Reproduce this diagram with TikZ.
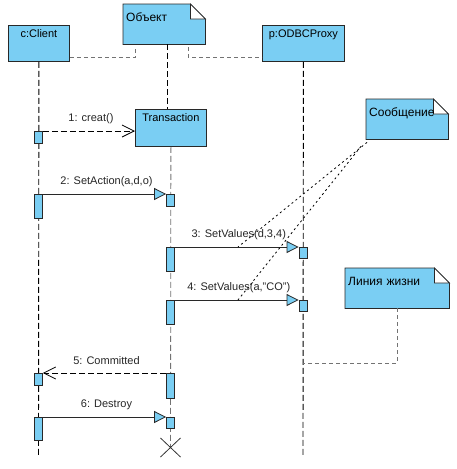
\documentclass[tikz,border=0pt]{standalone}
\usepackage{fontspec}
\setmainfont{Liberation Sans}
\usetikzlibrary{arrows.meta}
\usetikzlibrary{backgrounds}

\definecolor{umlblue}{RGB}{122,206,243}
\definecolor{umlline}{RGB}{40,40,40}

\tikzset{
 objbox/.style={draw=umlline, fill=umlblue, line width=0.8pt, anchor=north west, inner sep=3pt,
   text height=9pt, text depth=21pt, font=\fontsize{11}{13}\selectfont},
 notebox/.style={anchor=north west, inner sep=3pt, text height=14pt, text depth=20pt,
   align=left, font=\fontsize{12}{14}\selectfont},
 notebody/.style={draw=umlline, fill=umlblue, line width=0.8pt, line join=miter},
 act/.style={draw=umlline, fill=umlblue, line width=0.8pt, minimum width=8pt, inner sep=0pt, anchor=north},
 lifeline/.style={black, line width=0.9pt, dash pattern=on 6pt off 3pt},
 translife/.style={black!55, line width=0.8pt, dash pattern=on 6pt off 3pt},
 hint/.style={black!55, line width=0.8pt, dash pattern=on 4pt off 3pt},
 msgnote/.style={black, line width=0.8pt, dash pattern=on 2pt off 3pt},
 syncmsg/.style={umlline, line width=0.8pt, -{Triangle[length=12pt, width=12pt, fill=umlblue]}},
 replymsg/.style={black, line width=0.8pt, dash pattern=on 6pt off 3pt, -{Straight Barb[length=12pt, width=12pt]}},
 msglbl/.style={midway, yshift=12.5pt, xshift=2pt, inner sep=0pt, text=black!85, font=\fontsize{11}{13}\selectfont},
 destroy/.style={black!80, line width=0.8pt}
}

\begin{document}
\begin{tikzpicture}[x=1pt, y=-1pt]
\useasboundingbox (0,0) rectangle (456,469);

% objects
\node[objbox, minimum width=61pt] (client) at (8,25) {c:Client};
\node[objbox, minimum width=71pt, text depth=22pt] (trans) at (135,109) {Transaction};
\node[objbox, minimum width=82pt] (proxy) at (262,25) {p:ODBCProxy};

% notes
\node[notebox, text width=76pt] (obj) at (123,4) {Объект};
\node[notebox, text width=76pt] (msg) at (366,99) {Сообщение};
\node[notebox, text width=98pt] (life) at (345,268) {Линия жизни};
\begin{scope}[on background layer]
\foreach \n in {obj,msg,life} {
 \draw[notebody] (\n.south west) -- (\n.north west) -- ([xshift=-15pt]\n.north east)
   -- ([yshift=-15pt]\n.north east) -- (\n.south east) -- cycle;
 \draw[notebody, fill=white] ([xshift=-15pt]\n.north east) |- ([yshift=-15pt]\n.north east) -- cycle;
}
\end{scope}

% lifelines
\coordinate (clientend) at (38.5,457);
\coordinate (proxyend) at (303,457);
\coordinate (transx) at (170.5,447.5);
\draw[lifeline] (client.south) -- (clientend);
\draw[translife] (trans.south) -- (transx);
\draw[lifeline] (proxy.south) -- (proxyend);
\draw[destroy] ([shift={(-10pt,9.5pt)}]transx) -- ([shift={(10pt,-9.5pt)}]transx);
\draw[destroy] ([shift={(10pt,9.5pt)}]transx) -- ([shift={(-10pt,-9.5pt)}]transx);

% note links
\draw[lifeline] ([xshift=3pt]obj.south) -- ([xshift=3pt]obj.south |- trans.north);
\draw[hint] ([yshift=4pt]client.south east) -| ([xshift=12pt,yshift=-3pt]obj.south west);
\draw[hint] ([xshift=-17pt,yshift=-3pt]obj.south east) |- ([yshift=4pt]proxy.south west);
\coordinate (lifehit) at (303,363);
\draw[hint] (life.south) |- (lifehit);

% activations
\foreach \n/\x/\y/\h in {c1/38.5/131/12, c2/38.5/194/24, c3/38.5/373/12, c4/38.5/417/23,
  t1/170.5/194/12, t2/170.5/247/24, t3/170.5/300/24, t4/170.5/373/25, t5/170.5/417/11,
  p1/303/247/11, p2/303/300/11}
 \node[act, minimum height=\h] (\n) at (\x,\y) {};

% messages
\draw[replymsg] (c1.north east) -- (c1.north east -| trans.west) node[msglbl] (lbl1) {1: creat()};
\draw[syncmsg] (c2.north east) -- (t1.north west) node[msglbl] (lbl2) {2: SetAction(a,d,o)};
\draw[syncmsg] (t2.north east) -- (p1.north west) node[msglbl] (lbl3) {3: SetValues(d,3,4)};
\draw[syncmsg] (t3.north east) -- (p2.north west) node[msglbl] (lbl4) {4: SetValues(a,"CO")};
\draw[replymsg] (t4.north west) -- (c3.north east) node[msglbl] (lbl5) {5: Committed};
\draw[syncmsg] (c4.north east) -- (t5.north west) node[msglbl] (lbl6) {6: Destroy};

% message note links
\coordinate (m3hit) at (238,247);
\coordinate (m4hit) at (238,300);
\draw[msgnote] ([xshift=1pt,yshift=-3pt]msg.south west) -- (m3hit);
\draw[msgnote] ([xshift=-5pt,yshift=-7pt]msg.south west) -- (m4hit);
\end{tikzpicture}
\end{document}
